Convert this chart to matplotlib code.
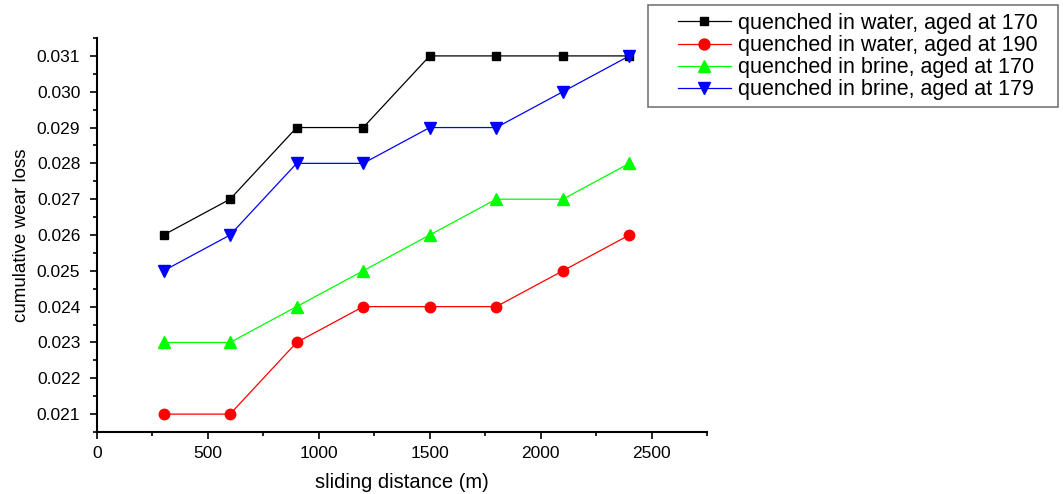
"""Cumulative wear loss versus sliding distance for four heat treatments."""
import matplotlib.pyplot as plt
from matplotlib.patches import Rectangle
from matplotlib.ticker import MultipleLocator

plt.rcParams["font.family"] = ["Liberation Sans", "DejaVu Sans"]

# sliding distance (m)
distance = [300, 600, 900, 1200, 1500, 1800, 2100, 2400]

# cumulative wear loss per treatment
water_170 = [0.026, 0.027, 0.029, 0.029, 0.031, 0.031, 0.031, 0.031]
water_190 = [0.021, 0.021, 0.023, 0.024, 0.024, 0.024, 0.025, 0.026]
brine_170 = [0.023, 0.023, 0.024, 0.025, 0.026, 0.027, 0.027, 0.028]
brine_179 = [0.025, 0.026, 0.028, 0.028, 0.029, 0.029, 0.030, 0.031]

labels = [
    "quenched in water, aged at 170",
    "quenched in water, aged at 190",
    "quenched in brine, aged at 170",
    "quenched in brine, aged at 179",
]

W, H = 1063, 494
fig = plt.figure(figsize=(W / 100, H / 100), dpi=100)
ax = fig.add_axes([97 / W, 1 - 432 / H, 610 / W, 394 / H])

series = [
    (water_170, "black", "s", 6),
    (water_190, "red", "o", 7.5),
    (brine_170, "#00ff00", "^", 8),
    (brine_179, "blue", "v", 8),
]
for (values, color, marker, size), label in zip(series, labels):
    ax.plot(distance, values, color=color, marker=marker, markersize=size,
            linewidth=0.9, label=label)

ax.set_xlim(0, 2750)
ax.set_ylim(0.0205, 0.0315)
ax.xaxis.set_major_locator(MultipleLocator(500))
ax.xaxis.set_minor_locator(MultipleLocator(250))
ax.yaxis.set_major_locator(MultipleLocator(0.001))
ax.yaxis.set_minor_locator(MultipleLocator(0.0005))
ax.yaxis.set_major_formatter(plt.FuncFormatter(lambda v, p: f"{v:.3f}"))
ax.tick_params(which="major", direction="out", length=5, width=1.2, labelsize=12.5)
ax.tick_params(axis="y", which="major", pad=7)
ax.tick_params(axis="x", which="major", pad=5)
ax.tick_params(which="minor", direction="out", length=3, width=1.2)

for side in ["top", "right"]:
    ax.spines[side].set_visible(False)
for side in ["left", "bottom"]:
    ax.spines[side].set_linewidth(1.5)

ax.set_xlabel("sliding distance (m)", fontsize=14.5, labelpad=9)
ax.set_ylabel("cumulative wear loss", fontsize=13.5, labelpad=5)

# legend frame drawn separately so the padding matches the original
fig.patches.append(Rectangle((648 / W, 1 - 107 / H), 410 / W, 102 / H,
                             transform=fig.transFigure, fill=False,
                             edgecolor="#777777", linewidth=1.2))
fig.legend(loc="upper left", bbox_to_anchor=(678 / W, 1 - 13 / H),
           bbox_transform=fig.transFigure, frameon=False, fontsize=15.5,
           markerscale=1.05, handlelength=2.45, borderpad=0, labelspacing=0.05,
           handletextpad=0.35, borderaxespad=0)

fig.savefig("out.png", dpi=100)
